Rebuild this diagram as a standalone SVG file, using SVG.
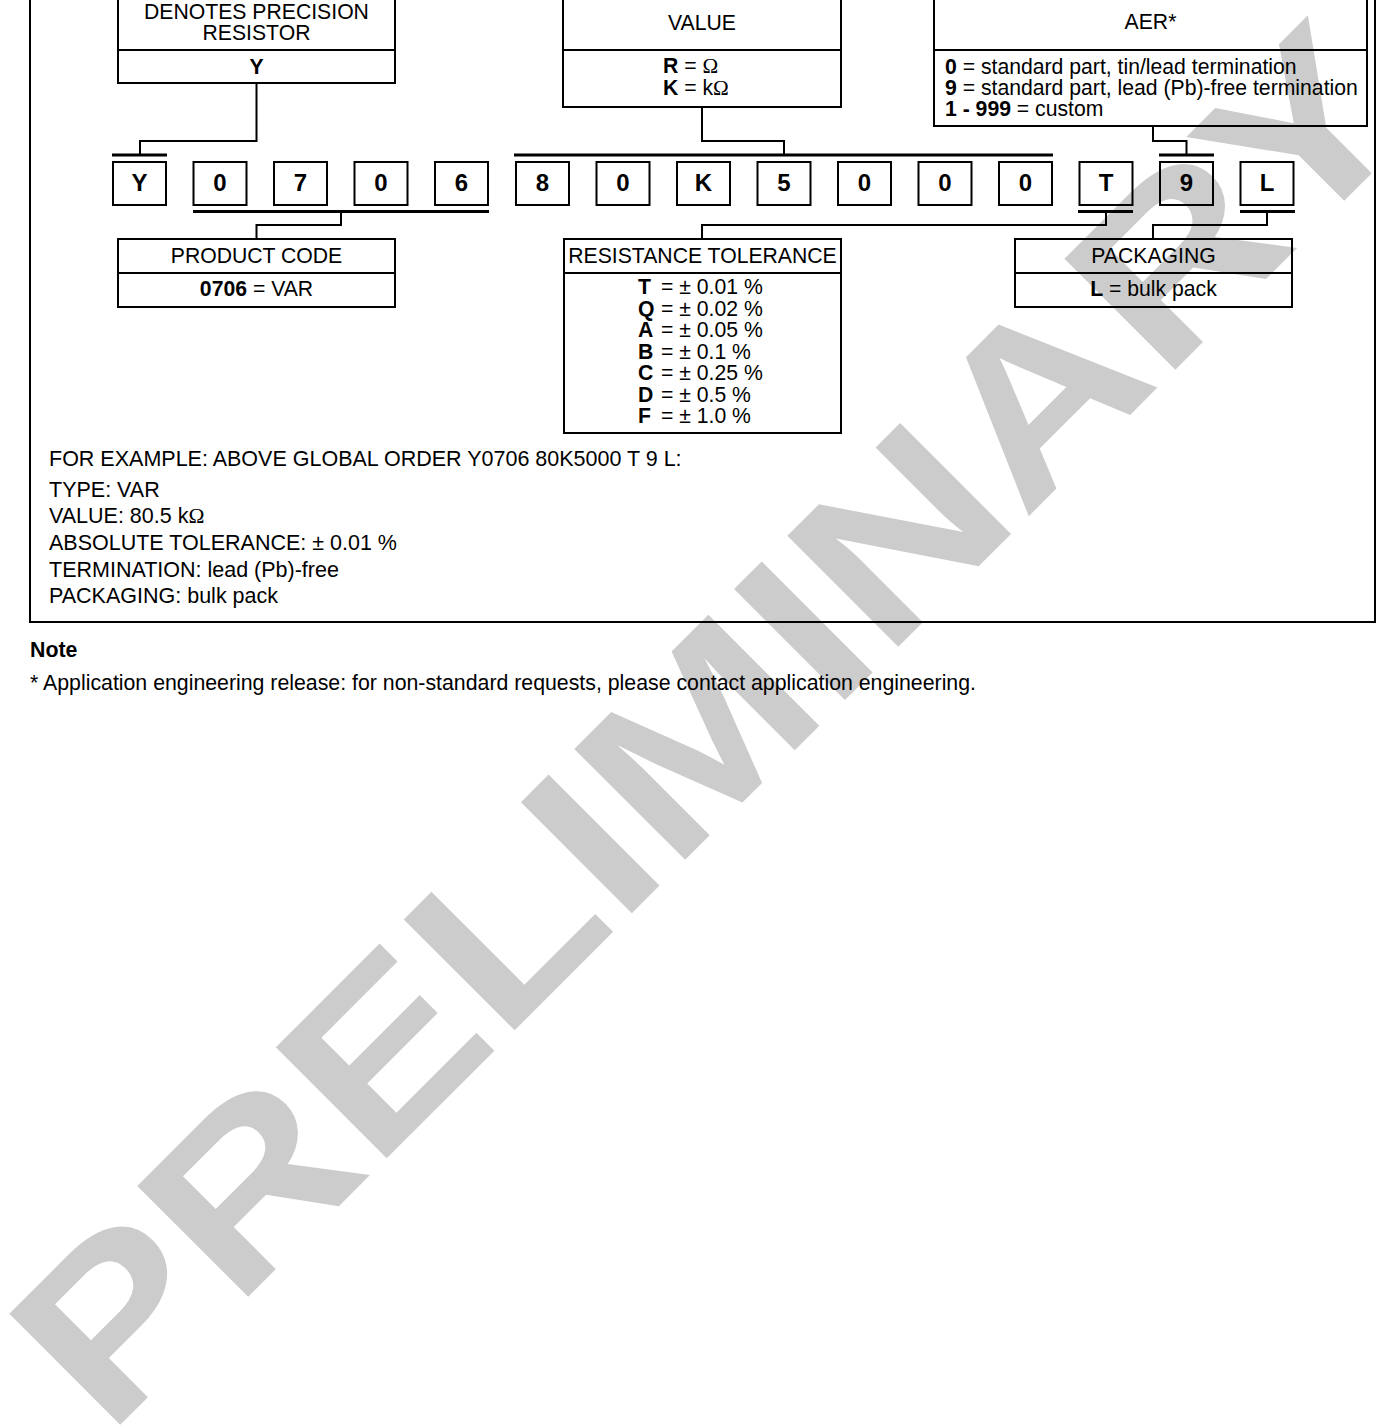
<svg xmlns="http://www.w3.org/2000/svg" width="1379" height="1425" viewBox="0 0 1379 1425">
<style>
text{font-family:"Liberation Sans",Arial,Helvetica,sans-serif;font-size:21.2px;fill:#000}
.c{text-anchor:middle}
.b{font-weight:bold}
.d{font-weight:bold;font-size:24px;text-anchor:middle}
.om{font-family:"Liberation Serif","Times New Roman",serif}
.ex{font-size:21.5px}
.nt{font-size:21.3px}
.box{fill:none;stroke:#000;stroke-width:2}
.ln{fill:none;stroke:#000;stroke-width:2}
.bar{fill:none;stroke:#000;stroke-width:3.2}
.wm{font-family:"Liberation Sans",Arial,sans-serif;font-weight:bold;font-size:228px;fill:#cccccc}
</style>
<rect x="0" y="0" width="1379" height="1425" fill="#fff"/>
<text class="wm" transform="translate(107.4,1437.6) rotate(-45) scale(1.19,1)">PRELIMINARY</text>
<rect id="frame" class="box" x="30" y="-10" width="1345" height="632"/>

<g id="node-denotes">
<rect class="box" x="118" y="-10" width="277" height="93"/>
<line class="box" x1="118" y1="50" x2="395" y2="50"/>
<text class="c" x="256.5" y="18.5">DENOTES PRECISION</text>
<text class="c" x="256.5" y="40">RESISTOR</text>
<text class="c b" x="256.5" y="74">Y</text>
</g>

<g id="node-value">
<rect class="box" x="563" y="-10" width="278" height="117"/>
<line class="box" x1="563" y1="50" x2="841" y2="50"/>
<text class="c" x="702" y="30">VALUE</text>
<text x="663" y="73"><tspan class="b">R</tspan> = <tspan class="om">Ω</tspan></text>
<text x="663" y="95"><tspan class="b">K</tspan> = k<tspan class="om">Ω</tspan></text>
</g>

<g id="node-aer">
<rect class="box" x="934" y="-10" width="433" height="136"/>
<line class="box" x1="934" y1="50" x2="1367" y2="50"/>
<text class="c" x="1150.5" y="29">AER*</text>
<text x="945" y="74"><tspan class="b">0</tspan> = standard part, tin/lead termination</text>
<text x="945" y="95"><tspan class="b">9</tspan> = standard part, lead (Pb)-free termination</text>
<text x="945" y="116"><tspan class="b">1 - 999</tspan> = custom</text>
</g>

<g id="node-digits">
<rect class="box" x="113" y="162" width="53" height="43"/><text class="d" x="139.5" y="191">Y</text>
<rect class="box" x="193.5" y="162" width="53" height="43"/><text class="d" x="220" y="191">0</text>
<rect class="box" x="274" y="162" width="53" height="43"/><text class="d" x="300.5" y="191">7</text>
<rect class="box" x="354.5" y="162" width="53" height="43"/><text class="d" x="381" y="191">0</text>
<rect class="box" x="435" y="162" width="53" height="43"/><text class="d" x="461.5" y="191">6</text>
<rect class="box" x="516" y="162" width="53" height="43"/><text class="d" x="542.5" y="191">8</text>
<rect class="box" x="596.5" y="162" width="53" height="43"/><text class="d" x="623" y="191">0</text>
<rect class="box" x="677" y="162" width="53" height="43"/><text class="d" x="703.5" y="191">K</text>
<rect class="box" x="757.5" y="162" width="53" height="43"/><text class="d" x="784" y="191">5</text>
<rect class="box" x="838" y="162" width="53" height="43"/><text class="d" x="864.5" y="191">0</text>
<rect class="box" x="918.5" y="162" width="53" height="43"/><text class="d" x="945" y="191">0</text>
<rect class="box" x="999" y="162" width="53" height="43"/><text class="d" x="1025.5" y="191">0</text>
<rect class="box" x="1079.5" y="162" width="53" height="43"/><text class="d" x="1106" y="191">T</text>
<rect class="box" x="1160" y="162" width="53" height="43"/><text class="d" x="1186.5" y="191">9</text>
<rect class="box" x="1240.5" y="162" width="53" height="43"/><text class="d" x="1267" y="191">L</text>
</g>

<g id="node-product-code">
<rect class="box" x="118" y="239" width="277" height="68"/>
<line class="box" x1="118" y1="273" x2="395" y2="273"/>
<text class="c" x="256.5" y="263">PRODUCT CODE</text>
<text class="c" x="256.5" y="296"><tspan class="b">0706</tspan> = VAR</text>
</g>

<g id="node-tolerance">
<rect class="box" x="564" y="239" width="277" height="194"/>
<line class="box" x1="564" y1="273" x2="841" y2="273"/>
<text class="c" x="702.5" y="263">RESISTANCE TOLERANCE</text>
<text class="b" x="638" y="294">T</text><text x="661" y="294">= ± 0.01 %</text>
<text class="b" x="638" y="315.5">Q</text><text x="661" y="315.5">= ± 0.02 %</text>
<text class="b" x="638" y="337">A</text><text x="661" y="337">= ± 0.05 %</text>
<text class="b" x="638" y="358.5">B</text><text x="661" y="358.5">= ± 0.1 %</text>
<text class="b" x="638" y="380">C</text><text x="661" y="380">= ± 0.25 %</text>
<text class="b" x="638" y="401.5">D</text><text x="661" y="401.5">= ± 0.5 %</text>
<text class="b" x="638" y="423">F</text><text x="661" y="423">= ± 1.0 %</text>
</g>

<g id="node-packaging">
<rect class="box" x="1015" y="239" width="277" height="68"/>
<line class="box" x1="1015" y1="273" x2="1292" y2="273"/>
<text class="c" x="1153.5" y="263">PACKAGING</text>
<text class="c" x="1153.5" y="296"><tspan class="b">L</tspan> = bulk pack</text>
</g>

<g id="connectors">
<path class="ln" d="M256.5,83 V141 H140 V155"/>
<path class="bar" d="M112,155 H167"/>
<path class="ln" d="M702,107 V141 H784 V155"/>
<path class="bar" d="M514,155 H1053"/>
<path class="ln" d="M1153,126 V141 H1186.5 V155"/>
<path class="bar" d="M1159,155 H1214"/>
<path class="bar" d="M193,211.5 H489"/>
<path class="ln" d="M341,211.5 V225 H256.5 V239"/>
<path class="bar" d="M1078,211.5 H1133"/>
<path class="ln" d="M1106,211.5 V225 H702 V239"/>
<path class="bar" d="M1240,211.5 H1295"/>
<path class="ln" d="M1267,211.5 V225 H1153 V239"/>
</g>

<g id="example">
<text class="ex" x="49" y="466">FOR EXAMPLE: ABOVE GLOBAL ORDER Y0706 80K5000 T 9 L:</text>
<text class="ex" x="49" y="497">TYPE: VAR</text>
<text class="ex" x="49" y="523">VALUE: 80.5 k<tspan class="om">Ω</tspan></text>
<text class="ex" x="49" y="550">ABSOLUTE TOLERANCE: ± 0.01 %</text>
<text class="ex" x="49" y="577">TERMINATION: lead (Pb)-free</text>
<text class="ex" x="49" y="603">PACKAGING: bulk pack</text>
</g>

<g id="note">
<text class="b nt" x="30" y="657">Note</text>
<text class="nt" x="30" y="690">* Application engineering release: for non-standard requests, please contact application engineering.</text>
</g>
</svg>
